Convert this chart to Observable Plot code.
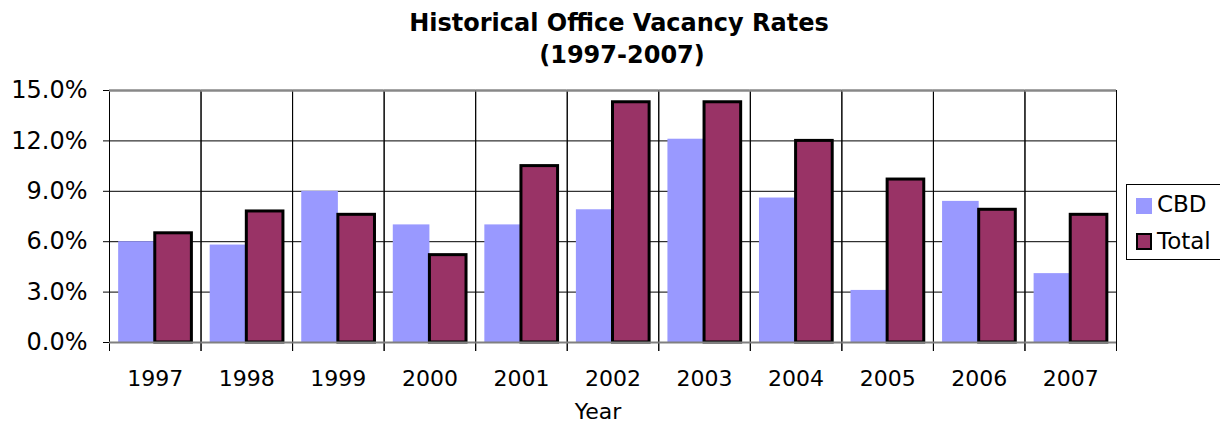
<!DOCTYPE html>
<html>
<head>
<meta charset="utf-8">
<script src="https://cdn.jsdelivr.net/npm/d3@7"></script>
<script src="https://cdn.jsdelivr.net/npm/@observablehq/plot@0.6"></script>
<style>
  html, body { margin: 0; padding: 0; background: #fff; overflow: hidden; }
  #wrap { position: relative; width: 1220px; height: 425px; overflow: hidden; font-family: "DejaVu Sans", Verdana, sans-serif; color: #000; }
  #title { position: relative; height: 78px; }
  .t { position: absolute; left: 9px; width: 1220px; text-align: center; font-weight: bold; font-size: 24px; line-height: 1; white-space: nowrap; }
  #legend { position: absolute; left: 1126px; top: 184px; width: 120px; height: 76px; border: 1px solid #000; box-sizing: border-box; background: #fff; }
  .sw { position: absolute; left: 9px; width: 16px; height: 16px; box-sizing: border-box; }
  .lt { position: absolute; left: 30px; font-size: 23px; line-height: 1; white-space: nowrap; }
  svg { display: block; }
</style>
</head>
<body>
<div id="wrap">
  <div id="title">
    <div class="t" style="top:11px">Historical Office Vacancy Rates</div>
    <div class="t" style="top:43px;left:12px">(1997-2007)</div>
  </div>
  <div id="chart"></div>
  <div id="legend">
    <div class="sw" style="top:13px;background:#9999ff"></div>
    <div class="lt" style="top:8px">CBD</div>
    <div class="sw" style="top:48px;background:#993366;border:2px solid #000;height:17px"></div>
    <div class="lt" style="top:45px">Total</div>
  </div>
</div>
<script>
const years = ["1997","1998","1999","2000","2001","2002","2003","2004","2005","2006","2007"];
const seriesNames = ["CBD","Total"];
const cbdValues = [6.0, 5.8, 9.0, 7.0, 7.0, 7.9, 12.1, 8.6, 3.1, 8.4, 4.1];
const totalValues = [6.5, 7.8, 7.6, 5.2, 10.5, 14.3, 14.3, 12.0, 9.7, 7.9, 7.6];
const yTicks = [0, 3, 6, 9, 12, 15];
const gridValues = [3, 6, 9, 12];
const xTitle = "Year";
const xTitleYear = "2002";

const cbdData = years.map((y, i) => ({year: y, series: "CBD", value: cbdValues[i]}));
const totalData = years.map((y, i) => ({year: y, series: "Total", value: totalValues[i]}));

const chart = Plot.plot({
  width: 1220,
  height: 347,
  marginTop: 12,
  marginBottom: 83,
  marginLeft: 109,
  marginRight: 104,
  style: {fontFamily: "DejaVu Sans", fontSize: "22px", color: "#000", background: "transparent", overflow: "visible"},
  fx: {domain: years, padding: 0, round: false},
  x: {domain: seriesNames, paddingInner: 0, paddingOuter: 0.25, round: false, axis: null},
  y: {domain: [0, 15]},
  marks: [
    Plot.ruleY(gridValues, {stroke: "#000", strokeWidth: 1}),
    Plot.frame({anchor: "left", insetBottom: -8, stroke: "#000", strokeWidth: 1}),
    Plot.frame({anchor: "right", insetBottom: -8, stroke: "#000", strokeWidth: 1}),
    Plot.barY(cbdData, {fx: "year", x: "series", y: "value", fill: "#9999ff"}),
    Plot.barY(totalData, {fx: "year", x: "series", y: "value", fill: "#993366", stroke: "#000", strokeWidth: 3}),
    Plot.ruleY([0], {stroke: "#808080", strokeWidth: 2}),
    Plot.ruleY([15], {stroke: "#888888", strokeWidth: 2.5}),
    Plot.axisY({ticks: yTicks, tickFormat: d => d.toFixed(1) + "%", tickSize: 6, tickPadding: 16, label: null, fontSize: 24, stroke: "#000"}),
    Plot.axisFx({anchor: "bottom", tickSize: 0, tickPadding: 28, label: null, fontSize: 22}),
    Plot.text([{year: xTitleYear}], {fx: "year", text: () => xTitle, frameAnchor: "bottom", lineAnchor: "middle", dy: 69, dx: -15, fontSize: 22, fill: "#000"})
  ]
});
document.getElementById("chart").appendChild(chart);
</script>
</body>
</html>
